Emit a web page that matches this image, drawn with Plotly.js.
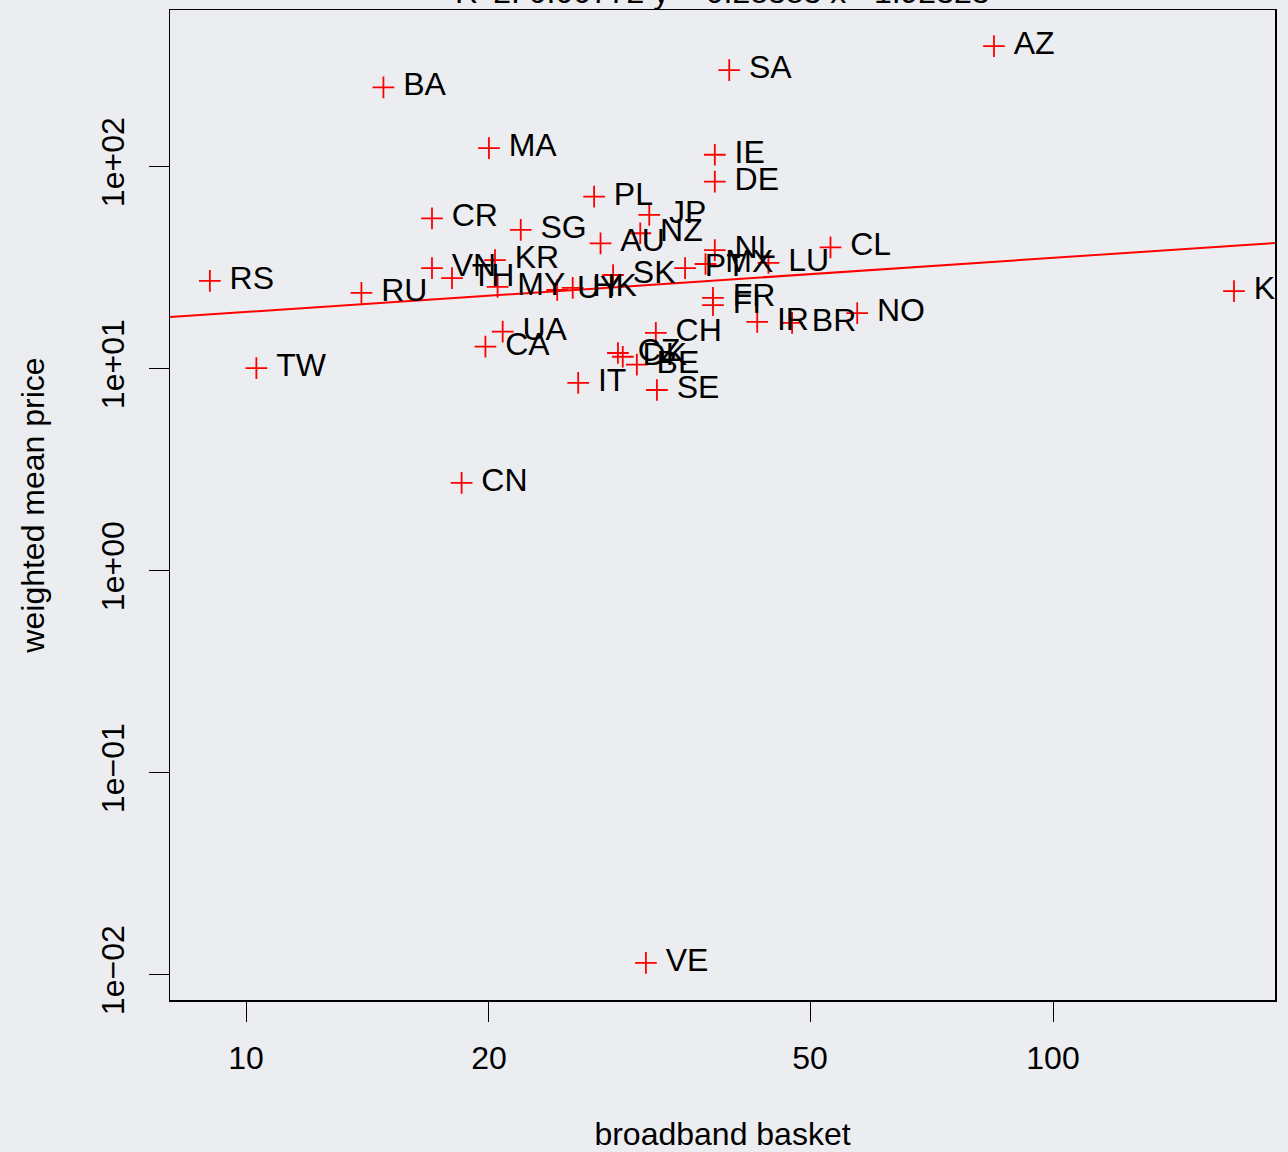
<!DOCTYPE html>
<html>
<head>
<meta charset="utf-8">
<script src="https://cdn.plot.ly/plotly-3.0.1.min.js"></script>
<style>html,body{margin:0;padding:0;background:#ecedf1;}#chart{width:1288px;height:1152px;}</style>
</head>
<body>
<div id="chart"></div>
<script>
// Country codes, broadband basket (x) and weighted mean price (y)
const countries = ["AZ","SA","BA","MA","IE","DE","PL","JP","CR","SG","NZ","AU","CL","NL","LU","MX","PT","SK","HK","UY","MY","KR","TH","VN","RS","RU","TW","FR","FI","IR","BR","NO","CH","CZ","DK","BE","UA","CA","IT","SE","CN","VE","KE"];
const basket = [84.5,39.7,14.8,20.0,38.1,38.1,27.0,31.6,17.0,21.9,30.8,27.5,53.0,38.1,44.4,37.1,35.0,28.5,25.4,24.3,20.5,20.35,18.0,17.0,9.02,13.9,10.3,37.9,37.9,43.0,47.5,57.2,32.2,28.9,29.3,30.5,20.8,19.8,25.8,32.3,18.5,31.3,167.6];
const price = [397,302,248,124,115,84.6,71.3,57.9,55.7,48.8,47.0,41.9,40.0,38.8,33.5,33.1,31.6,29.2,25.2,24.6,25.5,34.6,28.2,31.6,27.3,23.8,10.1,22.5,20.7,17.1,16.9,18.9,15.1,12.0,11.5,10.5,15.3,12.9,8.53,7.87,2.73,0.01147,24.3];

// Fitted line as drawn (log10 y = fitA + fitB * log10 x)
const fitA = 1.0142;
const fitB = 0.268;
const titleText = "R^2: 0.00772 y = 0.28383 x+ 1.92323";

const xTickVals = [10, 20, 50, 100];
const xTickText = ["10", "20", "50", "100"];
const yTickVals = [0.01, 0.1, 1, 10, 100];
const yTickText = ["1e\u221202", "1e\u221201", "1e+00", "1e+01", "1e+02"];

const xRange = [0.9058, 2.2751];
const yRange = [-2.1238, 2.7772];

const lineX = xRange.map(v => Math.pow(10, v));
const lineY = xRange.map(v => Math.pow(10, fitA + fitB * v));

const FONT = "Liberation Sans, Arial, Helvetica, sans-serif";

const traces = [
  {
    x: lineX, y: lineY, mode: "lines", type: "scatter",
    line: {color: "#ff0000", width: 2}, hoverinfo: "skip", showlegend: false
  },
  {
    x: basket, y: price, mode: "markers", type: "scatter",
    marker: {symbol: "cross-thin", size: 15.5, line: {color: "#ff0000", width: 1.8}, color: "#ff0000"},
    showlegend: false, hoverinfo: "skip"
  },
  {
    x: basket, y: price, mode: "markers+text", type: "scatter",
    text: countries, textposition: "middle right",
    textfont: {family: FONT, size: 32, color: "#000000"},
    marker: {size: 30, opacity: 0, color: "#ff0000"},
    showlegend: false, hoverinfo: "skip", cliponaxis: true
  }
];

const axisCommon = {
  type: "log", showgrid: false, zeroline: false,
  showline: true, mirror: true, linecolor: "#000000", linewidth: 1.5,
  ticks: "outside", ticklen: 20, tickwidth: 1, tickcolor: "#000000",
  tickfont: {family: FONT, size: 32, color: "#000000"},
  tickmode: "array"
};

const layout = {
  width: 1288, height: 1152,
  margin: {l: 170, r: 13, t: 10, b: 152},
  paper_bgcolor: "#ecedf1", plot_bgcolor: "#ecedf1",
  font: {family: FONT, color: "#000000"},
  showlegend: false,
  xaxis: Object.assign({}, axisCommon, {
    range: xRange, tickvals: xTickVals, ticktext: xTickText,
    ticklabelstandoff: 9,
    title: {text: "broadband basket", font: {family: FONT, size: 32, color: "#000000"}, standoff: 48}
  }),
  yaxis: Object.assign({}, axisCommon, {
    range: yRange, tickvals: yTickVals, ticktext: yTickText, tickangle: -90,
    ticklabelstandoff: 12,
    title: {text: "weighted mean price", font: {family: FONT, size: 32, color: "#000000"}, standoff: 40}
  }),
  annotations: [{
    text: titleText, xref: "paper", yref: "paper", x: 0.5, y: 1,
    xanchor: "center", yanchor: "bottom", yshift: -2, showarrow: false,
    font: {family: FONT, size: 32, color: "#000000"}
  }]
};

Plotly.newPlot("chart", traces, layout, {displayModeBar: false, staticPlot: true});
</script>
</body>
</html>
